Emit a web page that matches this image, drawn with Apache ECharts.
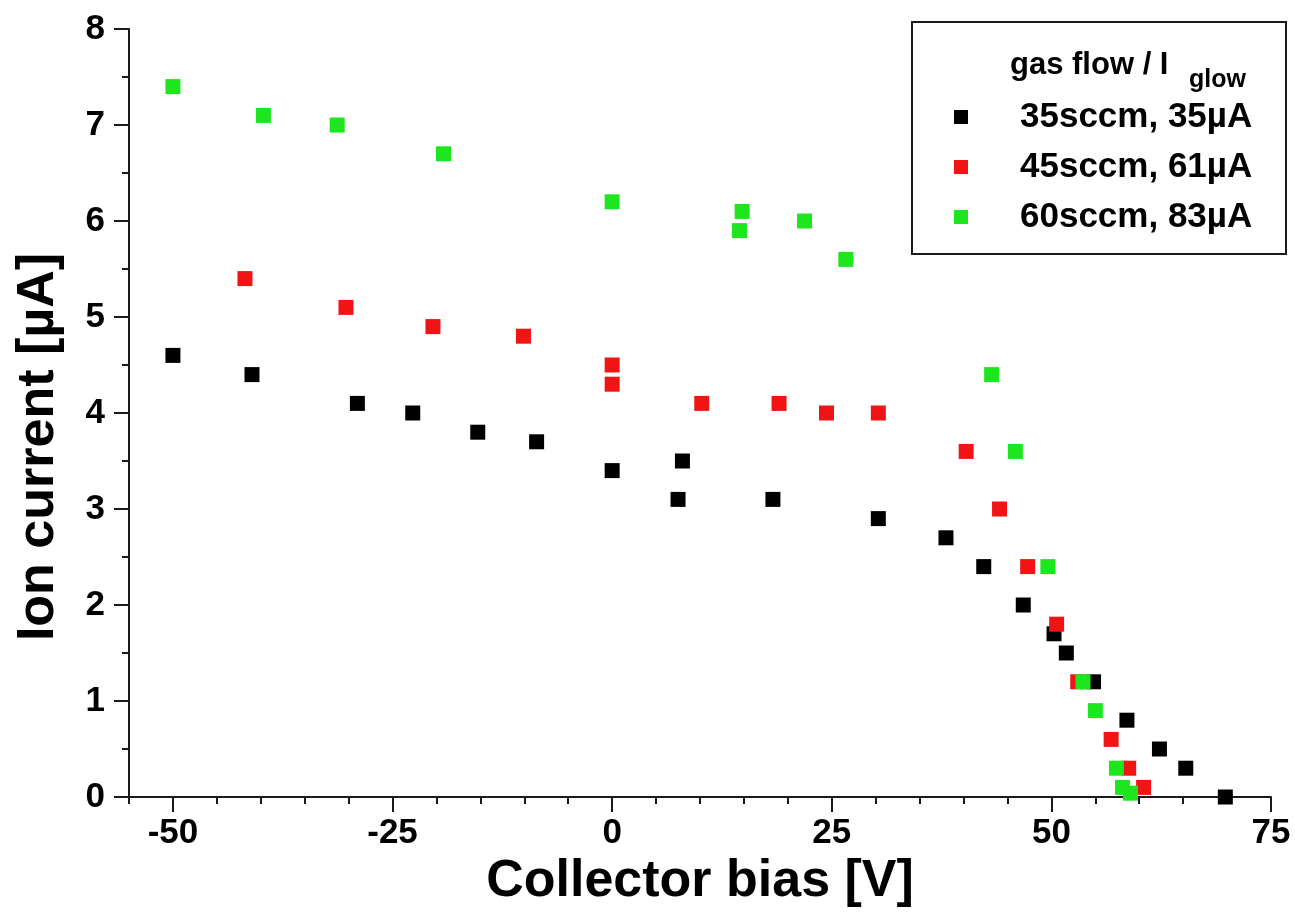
<!DOCTYPE html>
<html>
<head>
<meta charset="utf-8">
<script src="https://cdn.jsdelivr.net/npm/echarts@6/dist/echarts.min.js"></script>
<style>
html,body{margin:0;padding:0;background:#fff;}
#chart{width:1295px;height:916px;}
</style>
</head>
<body>
<div id="chart"></div>
<script>
// ---- data ----
const seriesNames = ['35sccm, 35µA', '45sccm, 61µA', '60sccm, 83µA'];

const bias35 = [-50, -41, -29, -22.7, -15.3, -8.6, 0, 8, 7.5, 18.3, 30.3, 38, 42.3, 46.8, 50.3, 51.7, 54.8, 58.6, 62.3, 65.3, 69.8];
const curr35 = [4.6, 4.4, 4.1, 4.0, 3.8, 3.7, 3.4, 3.5, 3.1, 3.1, 2.9, 2.7, 2.4, 2.0, 1.7, 1.5, 1.2, 0.8, 0.5, 0.3, 0.0];

const bias45 = [-41.8, -30.3, -20.4, -10.1, 0, 0, 10.2, 19.0, 24.4, 30.3, 40.3, 44.1, 47.3, 50.6, 53.0, 56.8, 58.8, 60.5];
const curr45 = [5.4, 5.1, 4.9, 4.8, 4.5, 4.3, 4.1, 4.1, 4.0, 4.0, 3.6, 3.0, 2.4, 1.8, 1.2, 0.6, 0.3, 0.1];

const bias60 = [-50, -39.7, -31.3, -19.2, 0, 14.8, 14.5, 21.9, 26.6, 43.2, 45.9, 49.6, 53.6, 55.0, 57.4, 58.1, 59.0];
const curr60 = [7.4, 7.1, 7.0, 6.7, 6.2, 6.1, 5.9, 6.0, 5.6, 4.4, 3.6, 2.4, 1.2, 0.9, 0.3, 0.1, 0.04];

const xTickLabels = [-50, -25, 0, 25, 50, 75];
const xMinorTicks = [-55, -50, -45, -40, -35, -30, -25, -20, -15, -10, -5, 0, 5, 10, 15, 20, 25, 30, 35, 40, 45, 50, 55, 60, 65, 70, 75];

const colors = ['#000000', '#f01414', '#1ee61e'];
const FONT = "'Liberation Sans', Arial, sans-serif";

function zip(xs, ys) { return xs.map((x, i) => [x, ys[i]]); }

const chart = echarts.init(document.getElementById('chart'));
chart.setOption({
  backgroundColor: '#ffffff',
  animation: false,
  textStyle: { fontFamily: FONT },
  grid: { left: 129, right: 24, top: 29, bottom: 119, containLabel: false, outerBoundsMode: 'none' },
  xAxis: [{
    type: 'value', min: -55, max: 75, interval: 5,
    name: 'Collector bias [V]', nameLocation: 'middle', nameGap: 41,
    nameTextStyle: { fontSize: 52, fontWeight: 'bold', color: '#000', fontFamily: FONT },
    axisLine: { show: true, onZero: false, lineStyle: { color: '#1a1a1a', width: 2 } },
    axisTick: { show: true, customValues: xMinorTicks, length: 7, lineStyle: { color: '#1a1a1a', width: 2 } },
    axisLabel: { customValues: xTickLabels, fontSize: 35, fontWeight: 'bold', color: '#000', margin: 19, fontFamily: FONT },
    splitLine: { show: false }
  }, {
    type: 'value', min: -55, max: 75, position: 'bottom',
    axisLine: { show: false, onZero: false },
    axisTick: { show: true, customValues: xTickLabels, length: 15, lineStyle: { color: '#1a1a1a', width: 2 } },
    axisLabel: { show: false },
    splitLine: { show: false }
  }],
  yAxis: {
    type: 'value', min: 0, max: 8, interval: 1,
    name: 'Ion current [µA]', nameLocation: 'middle', nameGap: 64,
    nameTextStyle: { fontSize: 52, fontWeight: 'bold', color: '#000', fontFamily: FONT, padding: [0, 68, 0, 0] },
    axisLine: { show: true, onZero: false, lineStyle: { color: '#1a1a1a', width: 2 } },
    axisTick: { show: true, length: 15, lineStyle: { color: '#1a1a1a', width: 2 } },
    minorTick: { show: true, splitNumber: 2, length: 7, lineStyle: { color: '#1a1a1a', width: 2 } },
    axisLabel: { fontSize: 35, fontWeight: 'bold', color: '#000', margin: 24, fontFamily: FONT },
    splitLine: { show: false }
  },
  legend: {
    orient: 'vertical', left: 954, top: 92, padding: 0, itemGap: 0,
    itemWidth: 14, itemHeight: 14, icon: 'rect', selectedMode: false,
    data: seriesNames,
    textStyle: { fontSize: 35, fontWeight: 'bold', color: '#000', fontFamily: FONT, lineHeight: 50, padding: [0, 0, 0, 47] }
  },
  graphic: [
    { type: 'rect', z: 1, shape: { x: 912, y: 22, width: 374, height: 232 },
      style: { fill: 'rgba(255,255,255,0)', stroke: '#1a1a1a', lineWidth: 2 } },
    { type: 'text', z: 5, x: 1010, y: 65,
      style: { text: 'gas flow / I', font: "bold 31px 'Liberation Sans', Arial, sans-serif", fill: '#000', verticalAlign: 'middle', align: 'left' } },
    { type: 'text', z: 5, x: 1189, y: 80,
      style: { text: 'glow', font: "bold 25px 'Liberation Sans', Arial, sans-serif", fill: '#000', verticalAlign: 'middle', align: 'left' } }
  ],
  series: [
    { name: seriesNames[0], type: 'scatter', symbol: 'rect', symbolSize: 15, itemStyle: { color: colors[0], opacity: 1 }, data: zip(bias35, curr35) },
    { name: seriesNames[1], type: 'scatter', symbol: 'rect', symbolSize: 15, itemStyle: { color: colors[1], opacity: 1 }, data: zip(bias45, curr45) },
    { name: seriesNames[2], type: 'scatter', symbol: 'rect', symbolSize: 15, itemStyle: { color: colors[2], opacity: 1 }, data: zip(bias60, curr60) }
  ]
});
</script>
</body>
</html>
